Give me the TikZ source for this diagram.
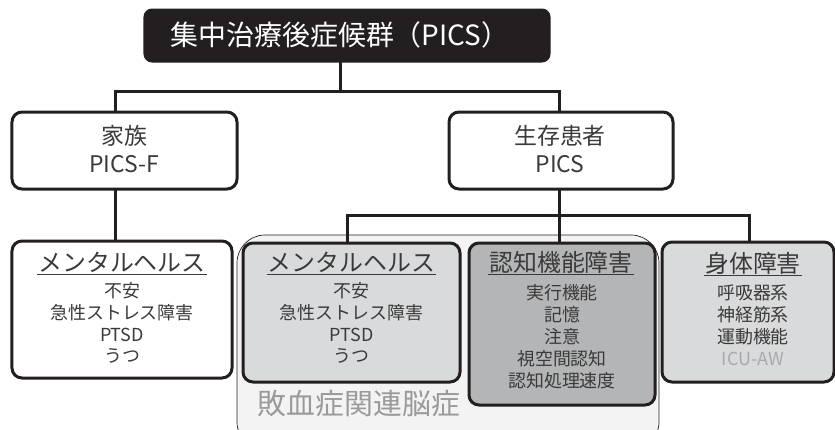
\documentclass[tikz,border=0pt]{standalone}
\usepackage{fontspec}
\setmainfont{Noto Sans CJK JP}
\usetikzlibrary{calc}
\definecolor{ink}{HTML}{231F20}
\definecolor{txt}{HTML}{3A3A3A}
\definecolor{lightbox}{HTML}{D9DADC}
\definecolor{darkbox}{HTML}{B4B5B7}
\definecolor{groupfill}{HTML}{F3F3F4}
\definecolor{grouptxt}{HTML}{9A9A9C}
\definecolor{fadetxt}{HTML}{A8A9AB}
\newcommand{\fsz}[1]{\fontsize{#1}{#1}\selectfont}
\begin{document}
\begin{tikzpicture}[x=1bp,y=-1bp,
  box/.style={draw=ink, line width=3bp, rounded corners=10bp, inner sep=0pt, outer sep=0pt},
  conn/.style={draw=ink, line width=3bp},
  grp/.style={draw=ink, line width=0.7bp, fill=groupfill, rounded corners=28bp, inner sep=0pt, outer sep=0pt},
  lbl/.style={text=txt, inner sep=0pt, align=center},
  head/.style={text=txt, inner sep=1bp, font=\fsz{24}},
  items/.style={text=txt, inner sep=0pt, align=center, font=\fontsize{18}{22}\selectfont},
  uline/.style={draw=txt, line width=0.9bp}
]
\useasboundingbox (0,0) rectangle (835,429);
\clip (0,0) rectangle (835,429);

% title
\node[box, fill=ink, rounded corners=7bp, minimum width=404bp, minimum height=51bp] (title) at (347,35.5) {};
\node[lbl, text=white, font=\fsz{28}] (titlet) at (340,35) {集中治療後症候群（PICS）};

% level 1
\node[box, fill=white, minimum width=225bp, minimum height=77bp] (fam) at (124.5,150.5) {};
\node[box, fill=white, minimum width=224bp, minimum height=77bp] (surv) at (561,150.5) {};
\node[lbl, font=\fontsize{23}{28}\selectfont] (famt) at (124,149) {家族\\PICS-F};
\node[lbl, font=\fontsize{23}{28}\selectfont] (survt) at (560,149) {生存患者\\PICS};

% sepsis group
\node[grp, minimum width=422bp, minimum height=215bp] (sep) at (448,342.5) {};
\node[lbl, text=grouptxt, font=\fsz{29}] (sept) at (359,404) {敗血症関連脳症};

% level 2 boxes
\node[box, fill=white, minimum width=220bp, minimum height=137bp] (fm) at (122,309.5) {};
\node[box, fill=lightbox, minimum width=217bp, minimum height=139bp] (m2) at (351.5,312.5) {};
\node[box, fill=darkbox, minimum width=186bp, minimum height=162bp] (cog) at (562,324) {};
\node[box, fill=lightbox, minimum width=172bp, minimum height=140bp] (phys) at (748,312) {};

% headers
\node[head] (fmh) at (122,262) {メンタルヘルス};
\node[head] (m2h) at (351.5,262) {メンタルヘルス};
\node[head] (cogh) at (561,262) {認知機能障害};
\node[head] (physh) at (753,263) {身体障害};
\foreach \h in {fmh,m2h,cogh,physh}
  \draw[uline] ([yshift=-0.5bp]\h.south west) -- ([yshift=-0.5bp]\h.south east);

% items
\node[items] (fmi) at (122,323) {不安\\急性ストレス障害\\PTSD\\うつ};
\node[items] (m2i) at (351.5,323) {不安\\急性ストレス障害\\PTSD\\うつ};
\node[items] (cogi) at (562,337) {実行機能\\記憶\\注意\\視空間認知\\認知処理速度};
\node[items] (physi) at (753,325) {呼吸器系\\神経筋系\\運動機能\\\textcolor{fadetxt}{ICU-AW}};

% connectors
\coordinate (j0) at (340,91);
\coordinate (famx) at (115,0);
\coordinate (survx) at (559,0);
\coordinate (j1) at (559,215);
\coordinate (m2x) at (347,0);
\coordinate (physx) at (749,0);
\draw[conn] (title.south -| j0) -- (j0);
\draw[conn] (fam.north -| famx) |- (j0) -| (surv.north -| survx);
\draw[conn] (fam.south -| famx) -- (fm.north -| famx);
\draw[conn] (surv.south -| survx) -- (j1);
\draw[conn] (m2.north -| m2x) |- (j1) -| (phys.north -| physx);
\draw[conn] (j1) -- (cog.north -| survx);
\end{tikzpicture}
\end{document}
